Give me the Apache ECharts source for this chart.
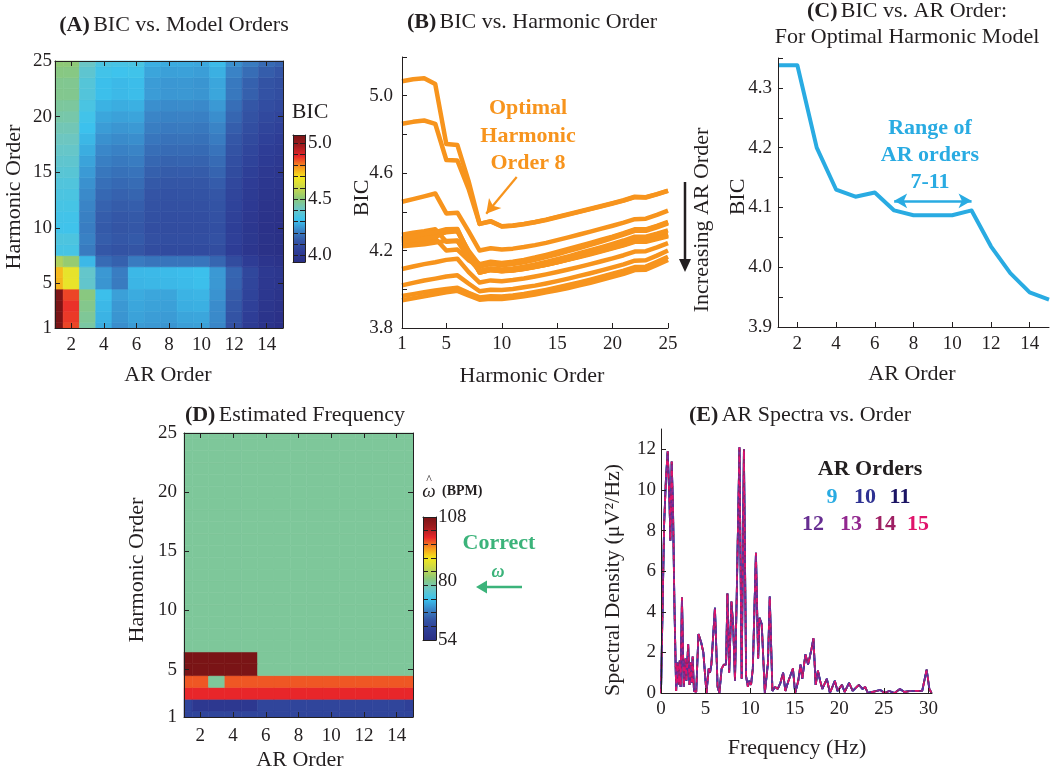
<!DOCTYPE html>
<html><head><meta charset="utf-8">
<script src="https://cdn.jsdelivr.net/npm/echarts@6/dist/echarts.min.js"></script>
<style>html,body{margin:0;padding:0;background:#fff}#c{width:1050px;height:769px}</style>
</head><body><div id="c"></div>
<script>
// ---------------- DATA ----------------
const arOrders = [1,2,3,4,5,6,7,8,9,10,11,12,13,14,15];
const harmonicOrders = [1,2,3,4,5,6,7,8,9,10,11,12,13,14,15,16,17,18,19,20,21,22,23,24,25];
// BIC for each AR order (rows) across harmonic orders 1..25 (columns)
const bicAR1  = [5.075,5.085,5.09,5.06,4.75,4.745,4.56,4.338,4.352,4.326,4.33,4.338,4.348,4.36,4.374,4.388,4.402,4.416,4.43,4.445,4.46,4.478,4.476,4.492,4.51];
const bicAR2  = [4.855,4.865,4.872,4.855,4.668,4.665,4.52,4.338,4.35,4.324,4.328,4.336,4.346,4.358,4.372,4.386,4.4,4.414,4.428,4.443,4.458,4.476,4.474,4.49,4.508];
const bicAR3  = [4.452,4.466,4.48,4.495,4.392,4.396,4.3,4.2,4.212,4.205,4.21,4.218,4.228,4.24,4.254,4.268,4.283,4.298,4.313,4.328,4.344,4.362,4.365,4.384,4.406];
const bicAR4  = [4.282,4.292,4.3,4.31,4.245,4.25,4.17,4.13,4.142,4.136,4.142,4.152,4.164,4.178,4.193,4.208,4.224,4.24,4.256,4.272,4.29,4.31,4.31,4.328,4.348];
const bicAR5  = [4.235,4.245,4.25,4.262,4.2,4.205,4.15,4.118,4.13,4.124,4.13,4.14,4.152,4.166,4.181,4.197,4.213,4.23,4.247,4.264,4.282,4.302,4.302,4.32,4.34];
const bicAR6  = [4.255,4.265,4.272,4.28,4.295,4.3,4.2,4.125,4.136,4.13,4.135,4.145,4.157,4.171,4.186,4.202,4.218,4.235,4.252,4.269,4.287,4.307,4.307,4.325,4.345];
const bicAR7  = [4.25,4.258,4.265,4.272,4.298,4.302,4.19,4.095,4.106,4.1,4.104,4.112,4.122,4.134,4.147,4.161,4.176,4.191,4.206,4.221,4.237,4.256,4.256,4.27,4.286];
const bicAR8  = [4.245,4.255,4.262,4.27,4.3,4.304,4.19,4.087,4.099,4.093,4.097,4.105,4.115,4.127,4.14,4.154,4.169,4.184,4.199,4.214,4.23,4.249,4.249,4.263,4.279];
const bicAR9  = [4.26,4.27,4.285,4.292,4.305,4.308,4.19,4.087,4.1,4.094,4.098,4.106,4.116,4.128,4.141,4.155,4.17,4.185,4.2,4.215,4.231,4.25,4.25,4.264,4.28];
const bicAR10 = [4.262,4.272,4.288,4.295,4.31,4.312,4.19,4.087,4.1,4.094,4.098,4.106,4.116,4.127,4.14,4.153,4.167,4.181,4.196,4.211,4.227,4.245,4.245,4.259,4.274];
const bicAR11 = [4.222,4.228,4.232,4.242,4.25,4.252,4.16,4.095,4.108,4.102,4.108,4.117,4.128,4.141,4.155,4.17,4.186,4.202,4.218,4.235,4.252,4.272,4.272,4.287,4.304];
const bicAR12 = [4.105,4.118,4.13,4.14,4.152,4.158,4.09,4.035,4.046,4.042,4.048,4.056,4.066,4.077,4.089,4.102,4.116,4.13,4.145,4.16,4.176,4.195,4.197,4.216,4.238];
const bicAR13 = [4.02,4.033,4.045,4.055,4.066,4.072,4.03,3.99,3.998,3.996,4.002,4.01,4.019,4.03,4.042,4.055,4.069,4.083,4.098,4.113,4.129,4.148,4.15,4.174,4.2];
const bicAR14 = [3.965,3.975,3.985,3.994,4.002,4.008,3.982,3.958,3.964,3.963,3.968,3.976,3.986,3.997,4.009,4.022,4.036,4.05,4.065,4.08,4.096,4.115,4.117,4.142,4.168];
const bicAR15 = [3.943,3.954,3.964,3.974,3.984,3.992,3.968,3.946,3.951,3.95,3.956,3.964,3.973,3.984,3.995,4.007,4.02,4.034,4.049,4.064,4.08,4.099,4.101,4.126,4.152];
const bicByAR = [bicAR1,bicAR2,bicAR3,bicAR4,bicAR5,bicAR6,bicAR7,bicAR8,bicAR9,bicAR10,bicAR11,bicAR12,bicAR13,bicAR14,bicAR15];
const optimalHarmonic = 8;

// Estimated frequency (BPM) per harmonic order (rows) across AR orders 1..15
const estFreqByHarmonic = [
  [60,60,60,60,60,60,60,60,60,60,60,60,60,60,60],
  [60,57,57,57,57,60,60,60,60,60,60,60,60,60,59],
  [99,99,99,99,99,99,99,99,99,99,99,99,99,99,99],
  [97,97,79,97,97,97,97,97,97,97,97,97,97,97,97],
  [108,108,108,108,108,79,79,79,79,79,79,79,79,79,79],
  [108,108,108,108,108,79,79,79,79,79,79,79,79,79,79],
  [79,79,79,79,79,79,79,79,79,79,79,79,79,79,79],
  [79,79,79,79,79,79,79,79,79,79,79,79,79,79,79],
  [79,79,79,79,79,79,79,79,79,79,79,79,79,79,79],
  [79,79,79,79,79,79,79,79,79,79,79,79,79,79,79],
  [79,79,79,79,79,79,79,79,79,79,79,79,79,79,79],
  [79,79,79,79,79,79,79,79,79,79,79,79,79,79,79],
  [79,79,79,79,79,79,79,79,79,79,79,79,79,79,79],
  [79,79,79,79,79,79,79,79,79,79,79,79,79,79,79],
  [79,79,79,79,79,79,79,79,79,79,79,79,79,79,79],
  [79,79,79,79,79,79,79,79,79,79,79,79,79,79,79],
  [79,79,79,79,79,79,79,79,79,79,79,79,79,79,79],
  [79,79,79,79,79,79,79,79,79,79,79,79,79,79,79],
  [79,79,79,79,79,79,79,79,79,79,79,79,79,79,79],
  [79,79,79,79,79,79,79,79,79,79,79,79,79,79,79],
  [79,79,79,79,79,79,79,79,79,79,79,79,79,79,79],
  [79,79,79,79,79,79,79,79,79,79,79,79,79,79,79],
  [79,79,79,79,79,79,79,79,79,79,79,79,79,79,79],
  [79,79,79,79,79,79,79,79,79,79,79,79,79,79,79],
  [79,79,79,79,79,79,79,79,79,79,79,79,79,79,79]
];

// AR spectrum (orders 9-15 overlap)
const spectrumHz = [0,0.35,0.55,0.75,0.95,1.05,1.2,1.35,1.5,1.7,1.85,2.0,2.1,2.2,2.35,2.55,2.75,2.85,3.05,3.2,3.35,3.45,3.55,3.7,3.95,4.2,4.5,4.75,5.1,5.35,5.5,5.65,6.05,6.35,6.55,6.8,7.05,7.3,7.45,7.65,7.9,8.1,8.3,8.5,8.8,9.05,9.3,9.55,9.75,9.9,10.1,10.3,10.65,10.9,11.05,11.3,11.65,12.0,12.2,12.5,12.8,13.1,13.4,13.7,13.95,14.3,14.8,15.05,15.4,15.65,15.85,16.2,16.5,16.9,17.1,17.35,17.6,17.85,18.1,18.6,18.95,19.5,19.8,20.3,20.6,21.1,21.5,22.2,22.6,22.9,23.2,24.2,24.6,25.1,25.6,26.2,26.8,27.3,28.0,28.8,29.3,29.8,30.1,30.35];
const spectrumDensity = [0,8.3,10.5,11.9,9.5,7.5,11.4,9.0,4.5,0.1,1.5,0.4,1.6,0.3,4.7,0.3,1.7,0.6,2.4,0.4,1.5,0.5,1.8,0.1,0.05,2.9,2.5,2.0,0.0,1.2,1.0,1.4,4.2,0.3,0.0,1.2,1.4,1.4,4.9,1.0,4.5,3.3,0.6,4.9,12.1,0.7,12.0,0.8,0.3,0.6,0.4,1.2,6.9,1.7,3.7,3.4,0.0,1.5,4.75,0.1,0.3,0.2,0.5,1.0,0.1,0.6,1.2,0.0,0.6,1.4,0.7,1.9,1.4,2.2,2.7,0.4,1.1,0.6,0.2,0.7,0.0,0.6,0.1,0.4,0.05,0.5,0.1,0.4,0.2,0.3,0.0,0.1,0.15,0.0,0.1,0.0,0.2,0.05,0.1,0.1,0.1,1.15,0.2,0.0];
const spectraOrders = [9,10,11,12,13,14,15];
const spectraColors = ['#29abe2','#2e3192','#1b1464','#662d91','#92278f','#9e1f63','#e0136b'];

// tick labels
const ticksAR = [2,4,6,8,10,12,14];
const ticksHarmonicA = [1,5,10,15,20,25];
const ticksHarmonicB = [1,5,10,15,20,25];
const bTicksY = [3.8,4.0,4.2,4.4,4.6,4.8,5.0,5.2];
const bLabelsY = [3.8,4.2,4.6,5.0];
const cTicksY = [3.9,3.95,4.0,4.05,4.1,4.15,4.2,4.25,4.3,4.35];
const cLabelsY = [3.9,4.0,4.1,4.2,4.3];
const cbBicRange = [3.94,5.07];
const cbBicLabels = [4.0,4.5,5.0];
const cbBicTicks = [4.0,4.1,4.2,4.3,4.4,4.5,4.6,4.7,4.8,4.9,5.0];
const cbFreqRange = [54,108];
const cbFreqLabels = [54,80,108];
const cbFreqTicks = [60,66,72,78,84,90,96,102];
const eTicksX = [0,5,10,15,20,25,30];
const eTicksY = [0,2,4,6,8,10,12];

// ---------------- STYLE ----------------
const INK = '#231f20';
const FONT = '"Liberation Serif", "DejaVu Serif", serif';
const jet = ['#2a2f85','#2e3d96','#3456a6','#3a86c8','#3cc3ee','#6cc6c4','#8cc878','#c8d84a','#f5e81e','#f7941d','#e8262a','#a01c1f','#7a1416'];
const orange = '#f7941d';
const skyBlue = '#29abe2';
const green = '#3bb37a';

function ax(gridIndex, position, min, max, labels, ticks, fmt, margin) {
  return {
    type: 'value', gridIndex, position, min, max, z: 10,
    axisLine: { show: true, onZero: false, lineStyle: { color: INK, width: 1 } },
    axisTick: ticks ? { show: true, inside: true, length: 5, customValues: ticks, lineStyle: { color: INK } } : { show: false },
    axisLabel: labels ? { show: true, customValues: labels, fontFamily: FONT, fontSize: 19, color: INK, margin: margin == null ? 8 : margin, formatter: fmt || (v => String(v)) } : { show: false },
    splitLine: { show: false }
  };
}
const f1 = v => v.toFixed(1);

const grids = [
  { left: 55, top: 61, width: 228, height: 267 },   // 0 A
  { left: 293, top: 135, width: 12, height: 127 },  // 1 A colorbar
  { left: 402, top: 57, width: 266, height: 271 },  // 2 B
  { left: 778, top: 58, width: 271, height: 269 },  // 3 C
  { left: 184, top: 433, width: 229, height: 284 }, // 4 D
  { left: 423, top: 517, width: 13, height: 123 },  // 5 D colorbar
  { left: 661, top: 429, width: 271, height: 264 }  // 6 E
].map(g => Object.assign({ containLabel: false, outerBoundsMode: 'none' }, g));

const xAxes = [
  ax(0, 'bottom', 1, 15, ticksAR, ticksAR, null, 8),          // 0
  ax(0, 'top', 1, 15, null, ticksAR),                          // 1
  ax(1, 'bottom', 0, 1, null, null),                           // 2
  ax(1, 'top', 0, 1, null, null),                              // 3
  ax(2, 'bottom', 1, 25, ticksHarmonicB, ticksHarmonicB, null, 7), // 4
  ax(3, 'bottom', 1, 15, ticksAR, ticksAR, null, 8),           // 5
  ax(4, 'bottom', 1, 15, ticksAR, ticksAR, null, 10),          // 6
  ax(4, 'top', 1, 15, null, ticksAR),                          // 7
  ax(5, 'bottom', 0, 1, null, null),                           // 8
  ax(5, 'top', 0, 1, null, null),                              // 9
  ax(6, 'bottom', 0, 30.4, eTicksX, eTicksX, null, 7)          // 10
];
const yAxes = [
  ax(0, 'left', 1, 25, ticksHarmonicA, [5,10,15,20], null, 3),   // 0
  ax(0, 'right', 1, 25, null, [5,10,15,20]),                     // 1
  ax(1, 'right', cbBicRange[0], cbBicRange[1], cbBicLabels, cbBicTicks, f1, 3), // 2
  ax(1, 'left', cbBicRange[0], cbBicRange[1], null, cbBicTicks), // 3
  ax(2, 'left', 3.8, 5.2, bLabelsY, bTicksY, f1, 9),             // 4
  ax(3, 'left', 3.9, 4.35, cLabelsY, cTicksY, f1, 6),            // 5
  ax(4, 'left', 1, 25, ticksHarmonicA, [5,10,15,20], null, 7),   // 6
  ax(4, 'right', 1, 25, null, [5,10,15,20]),                     // 7
  ax(5, 'right', cbFreqRange[0], cbFreqRange[1], cbFreqLabels, cbFreqTicks, null, 2), // 8
  ax(5, 'left', cbFreqRange[0], cbFreqRange[1], null, cbFreqTicks), // 9
  ax(6, 'left', 0, 13, eTicksY, eTicksY, null, 5)                // 10
];

function cellRenderer(params, api) {
  const x = api.value(0), y = api.value(1);
  const p0 = api.coord([x - 0.5, y + 0.5]);
  const p1 = api.coord([x + 0.5, y - 0.5]);
  const cs = params.coordSys;
  const r = echarts.graphic.clipRectByRect(
    { x: p0[0], y: p0[1], width: p1[0] - p0[0], height: p1[1] - p0[1] },
    { x: cs.x, y: cs.y, width: cs.width, height: cs.height });
  if (!r) return;
  const c = api.visual('color');
  return { type: 'rect', shape: r, style: { fill: c, stroke: c, lineWidth: 0.6 } };
}
function colorbarRenderer(params, api) {
  const p0 = api.coord([0, api.value(2)]);
  const p1 = api.coord([1, api.value(1)]);
  const grad = new echarts.graphic.LinearGradient(0, 1, 0, 0, jet.map((c, i) => ({ offset: i / (jet.length - 1), color: c })));
  return { type: 'rect', shape: { x: p0[0], y: p0[1], width: p1[0] - p0[0], height: p1[1] - p0[1] }, style: { fill: grad } };
}

const series = [];
// 0: A heatmap
const aData = [];
arOrders.forEach((ar, i) => harmonicOrders.forEach((h, j) => aData.push([ar, h, bicByAR[i][j]])));
series.push({ type: 'custom', xAxisIndex: 0, yAxisIndex: 0, renderItem: cellRenderer, data: aData, encode: { x: 0, y: 1 }, silent: true });
// 1: A colorbar
series.push({ type: 'custom', xAxisIndex: 2, yAxisIndex: 2, renderItem: colorbarRenderer, data: [[0.5, cbBicRange[0], cbBicRange[1]]], encode: { x: 0, y: 1 }, silent: true });
// B lines
arOrders.forEach((ar, i) => {
  const s = { type: 'line', xAxisIndex: 4, yAxisIndex: 4, showSymbol: false, symbol: 'none', silent: true,
    data: harmonicOrders.map((h, j) => [h, bicByAR[i][j]]),
    lineStyle: { color: orange, width: 4.5, join: 'round' }, itemStyle: { color: orange }, z: 3 };
  if (i === 0) {
    s.markLine = { silent: true, symbol: ['none', 'arrow'], symbolSize: [12, 14],
      lineStyle: { color: orange, width: 2.2, type: 'solid' }, label: { show: false },
      data: [[{ coord: [11.35, 4.58] }, { coord: [8.6, 4.39] }]] };
  }
  series.push(s);
});
// C line (optimal harmonic column)
series.push({ type: 'line', xAxisIndex: 5, yAxisIndex: 5, showSymbol: false, symbol: 'none', silent: true,
  data: arOrders.map((ar, i) => [ar, bicByAR[i][optimalHarmonic - 1]]),
  lineStyle: { color: skyBlue, width: 4, join: 'round' }, itemStyle: { color: skyBlue },
  markLine: { silent: true, symbol: ['arrow', 'arrow'], symbolSize: [11, 13],
    lineStyle: { color: skyBlue, width: 2.5, type: 'solid' }, label: { show: false },
    data: [[{ coord: [7, 4.111] }, { coord: [11, 4.111] }]] } });
// D heatmap
const dIndex = series.length;
const dData = [];
harmonicOrders.forEach((h, j) => arOrders.forEach((ar, i) => dData.push([ar, h, estFreqByHarmonic[j][i]])));
series.push({ type: 'custom', xAxisIndex: 6, yAxisIndex: 6, renderItem: cellRenderer, data: dData, encode: { x: 0, y: 1 }, silent: true });
// D colorbar
series.push({ type: 'custom', xAxisIndex: 8, yAxisIndex: 8, renderItem: colorbarRenderer, data: [[0.5, cbFreqRange[0], cbFreqRange[1]]], encode: { x: 0, y: 1 }, silent: true });
// E spectra: solid lower orders underneath, dashed higher orders on top
const eStyle = [
  { type: 'solid', z: 4, width: 1.8 },
  { type: 'solid', z: 5, width: 1.8 },
  { type: 'solid', z: 3, width: 1.8 },
  { type: [3, 9], z: 6, width: 1.8, off: 3 },
  { type: [3, 9], z: 7, width: 1.8, off: 6 },
  { type: [3, 9], z: 8, width: 1.8, off: 9 },
  { type: [4, 8], z: 9, width: 1.8, off: 0 }
];
spectraOrders.forEach((ord, k) => {
  const st = eStyle[k];
  series.push({ type: 'line', xAxisIndex: 10, yAxisIndex: 10, showSymbol: false, symbol: 'none', silent: true,
    data: spectrumHz.map((f, i) => [f, spectrumDensity[i]]),
    lineStyle: { color: spectraColors[k], width: st.width, type: st.type, dashOffset: st.off || 0 },
    itemStyle: { color: spectraColors[k] }, z: st.z });
});

function txt(x, y, text, opt) {
  opt = opt || {};
  return { type: 'text', x, y, rotation: opt.rot || 0, silent: true, z: 100,
    style: { text, fill: opt.color || INK, font: (opt.weight || 'normal') + ' ' + (opt.style || 'normal') + ' ' + (opt.size || 22) + 'px ' + FONT,
      align: opt.align || 'center', verticalAlign: 'middle' } };
}
function titleTxt(x, y, label, rest) {
  return { type: 'text', x, y, silent: true, z: 100,
    style: { text: '{b|' + label + '} {n|' + rest + '}', align: 'center', verticalAlign: 'middle',
      rich: { b: { fontFamily: FONT, fontSize: 22, fontWeight: 'bold', fill: INK, color: INK },
              n: { fontFamily: FONT, fontSize: 22, fill: INK, color: INK } } } };
}
const R = Math.PI / 2;
const graphics = [
  titleTxt(174, 25, '(A)', 'BIC vs. Model Orders'),
  titleTxt(532, 22, '(B)', 'BIC vs. Harmonic Order'),
  titleTxt(907, 11, '(C)', 'BIC vs. AR Order:'),
  txt(907, 37, 'For Optimal Harmonic Model'),
  titleTxt(295, 415, '(D)', 'Estimated Frequency'),
  titleTxt(800, 415, '(E)', 'AR Spectra vs. Order'),
  txt(14, 197, 'Harmonic Order', { rot: R }),
  txt(168, 375, 'AR Order'),
  txt(310, 112, 'BIC'),
  txt(362, 198, 'BIC', { rot: R }),
  txt(532, 376, 'Harmonic Order'),
  txt(702, 220, 'Increasing AR Order', { rot: R }),
  { type: 'line', silent: true, shape: { x1: 685, y1: 182, x2: 685, y2: 262 }, style: { stroke: INK, lineWidth: 2.5 } },
  { type: 'polygon', silent: true, shape: { points: [[679, 259], [691, 259], [685, 272]] }, style: { fill: INK } },
  txt(528, 108, 'Optimal', { weight: 'bold', color: orange }),
  txt(528, 136, 'Harmonic', { weight: 'bold', color: orange }),
  txt(528, 163, 'Order 8', { weight: 'bold', color: orange }),
  txt(738, 197, 'BIC', { rot: R }),
  txt(912, 374, 'AR Order'),
  txt(930, 128, 'Range of', { weight: 'bold', color: skyBlue }),
  txt(930, 155, 'AR orders', { weight: 'bold', color: skyBlue }),
  txt(930, 182, '7-11', { weight: 'bold', color: skyBlue }),
  txt(137, 570, 'Harmonic Order', { rot: R }),
  txt(300, 760, 'AR Order'),
  txt(429, 492, 'ω', { style: 'italic', size: 19 }),
  txt(429, 480, '^', { size: 12 }),
  txt(442, 491, '(BPM)', { weight: 'bold', size: 14, align: 'left' }),
  txt(499, 543, 'Correct', { weight: 'bold', color: green }),
  txt(498, 572, 'ω', { style: 'italic', weight: 'bold', size: 18, color: green }),
  { type: 'line', silent: true, shape: { x1: 522, y1: 587, x2: 484, y2: 587 }, style: { stroke: green, lineWidth: 2.5 } },
  { type: 'polygon', silent: true, shape: { points: [[487, 580.5], [487, 593.5], [476, 587]] }, style: { fill: green } },
  txt(613, 580, 'Spectral Density (μV²/Hz)', { rot: R }),
  txt(797, 748, 'Frequency (Hz)'),
  txt(870, 469, 'AR Orders', { weight: 'bold' }),
  txt(832, 497, '9', { weight: 'bold', color: spectraColors[0] }),
  txt(865, 497, '10', { weight: 'bold', color: spectraColors[1] }),
  txt(900, 497, '11', { weight: 'bold', color: spectraColors[2] }),
  txt(813, 524, '12', { weight: 'bold', color: spectraColors[3] }),
  txt(851, 524, '13', { weight: 'bold', color: spectraColors[4] }),
  txt(885, 524, '14', { weight: 'bold', color: spectraColors[5] }),
  txt(918, 524, '15', { weight: 'bold', color: spectraColors[6] })
];

const chart = echarts.init(document.getElementById('c'), null, { renderer: 'canvas' });
chart.setOption({
  animation: false,
  backgroundColor: '#ffffff',
  grid: grids,
  xAxis: xAxes,
  yAxis: yAxes,
  visualMap: [
    { type: 'continuous', show: false, seriesIndex: 0, dimension: 2, min: cbBicRange[0], max: cbBicRange[1], inRange: { color: jet } },
    { type: 'continuous', show: false, seriesIndex: dIndex, dimension: 2, min: cbFreqRange[0], max: cbFreqRange[1], inRange: { color: jet } }
  ],
  series,
  graphic: graphics
});
</script></body></html>
